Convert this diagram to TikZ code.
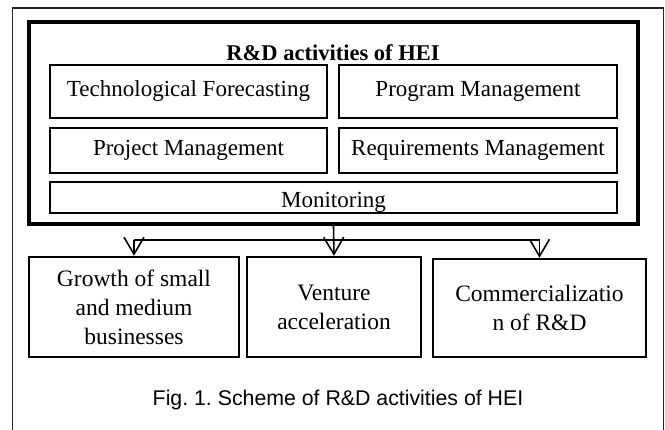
\documentclass[tikz,border=0pt]{standalone}
\usepackage{fontspec}
\setmainfont{Liberation Serif}
\newfontfamily\capfont{Liberation Sans}
\usetikzlibrary{arrows.meta}
\frenchspacing

\begin{document}
\begin{tikzpicture}[x=1pt,y=1pt]
    \tikzstyle{edge}  = [line width=1.6pt,draw=black]
    \tikzstyle{dedge} = [edge,-{Straight Barb[length=17pt,width=20pt]}]
    \tikzstyle{frame}=[
      line width=1.6pt,
      draw=black!85,
    ]
    \tikzstyle{group}=[
      draw=black,
      line width=3.2pt,
      rectangle,
      anchor=center,
      minimum width=609pt,
      minimum height=202pt,
    ]
    \tikzstyle{activity}=[
      draw=black,
      line width=2.4pt,
      rectangle,
      anchor=center,
      inner sep=0pt,
      font=\fontsize{23}{28}\selectfont,
    ]
    \tikzstyle{result}=[
      activity,
      align=center,
      minimum height=100pt,
      font=\fontsize{23.5}{29}\selectfont,
    ]

    \coordinate (frameAnchor) at (0,0);
    \useasboundingbox (frameAnchor) rectangle ([xshift=665pt, yshift=-430pt] frameAnchor);

    % outer frame, open at the bottom
    \draw[frame] ([xshift=12.5pt, yshift=-440pt] frameAnchor) |- ([xshift=663.5pt, yshift=-8pt] frameAnchor) -- ([xshift=663.5pt, yshift=-440pt] frameAnchor);

    % R&D activities
    {
      \node[group] (rd) at ([xshift=333.5pt, yshift=-123pt] frameAnchor) {};
      \node[font=\fontsize{22.5}{28}\selectfont] (rdTitle) at ([xshift=333pt, yshift=-53pt] frameAnchor) {\textbf{R\&D activities of HEI}};

      \node[activity, minimum width=277pt, minimum height=53pt] (forecast) at ([xshift=188.5pt, yshift=-91.5pt] frameAnchor) {Technological Forecasting};
      \node[activity, minimum width=278pt, minimum height=53pt] (program) at ([xshift=478pt, yshift=-91.5pt] frameAnchor) {Program Management};
      \node[activity, minimum width=277pt, minimum height=45pt] (project) at ([xshift=188.5pt, yshift=-150.5pt] frameAnchor) {Project Management};
      \node[activity, minimum width=278pt, minimum height=45pt] (require) at ([xshift=478pt, yshift=-150.5pt] frameAnchor) {Requirements Management};
      \node[activity, minimum width=567pt, minimum height=31pt, text depth=0pt, text height=20pt] (monitor) at ([xshift=333.5pt, yshift=-197.5pt] frameAnchor) {Monitoring};
    }

    % results
    {
      \node[result, minimum width=210pt] (growth) at ([xshift=134pt, yshift=-307pt] frameAnchor) {Growth of small\\and medium\\businesses};
      \node[result, minimum width=174.5pt] (venture) at ([xshift=334pt, yshift=-307pt] frameAnchor) {Venture\\acceleration};
      \node[result, minimum width=213pt, minimum height=98pt] (commerc) at ([xshift=539.5pt, yshift=-308pt] frameAnchor) {Commercializatio\\n of R\&D};
    }

    \coordinate (busLevel) at ([yshift=-240pt] frameAnchor);
    \coordinate (busLeft) at (growth.north |- busLevel);
    \coordinate (busRight) at (commerc.north |- busLevel);

    \draw[edge] (busLeft)--(busRight);
    \draw[dedge] (rd.south)--(venture.north);
    \draw[dedge] (busLeft)--(growth.north);
    \draw[dedge] (busRight)--(commerc.north);

    \node[font=\capfont\fontsize{21.3}{26}\selectfont] (caption) at ([xshift=338pt, yshift=-400pt] frameAnchor) {Fig. 1. Scheme of R\&D activities of HEI};
  \end{tikzpicture}
\end{document}
